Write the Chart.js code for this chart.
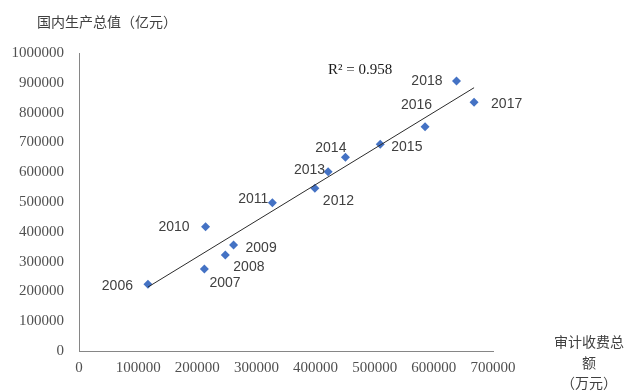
<!DOCTYPE html>
<html>
<head>
<meta charset="utf-8">
<script src="https://cdn.jsdelivr.net/npm/chart.js@4/dist/chart.umd.min.js"></script>
<style>
  html, body { margin: 0; padding: 0; background: #fff; }
  canvas { display: block; }
</style>
</head>
<body>
<canvas id="chart" width="626" height="392"></canvas>
<script>
// data
const years = ['2006', '2007', '2008', '2009', '2010', '2011', '2012', '2013', '2014', '2015', '2016', '2017', '2018'];
const auditFees = [116600, 212000, 247400, 261300, 214000, 327000, 398800, 421200, 450500, 509400, 585100, 668000, 638300];
const gdp = [223800, 275200, 322100, 355700, 417100, 497700, 546000, 601700, 650000, 693600, 752700, 834600, 906000];
const xTicks = [0, 100000, 200000, 300000, 400000, 500000, 600000, 700000];
const yTicks = [0, 100000, 200000, 300000, 400000, 500000, 600000, 700000, 800000, 900000, 1000000];
const rSquaredText = 'R² = 0.958';
const yTitle = '国内生产总值（亿元）';
const xTitleLines = ['审计收费总', '额', '（万元）'];

// where each year label sits next to its marker: [textAlign, dx, dy]
const labelPlacement = [
    ['right', -15, 2], ['left', 5, 14], ['left', 8, 12], ['left', 12, 3],
    ['right', -16, 0], ['right', -4, -4], ['left', 8, 13], ['right', -3, -2],
    ['right', 1, -9], ['left', 11, 3], ['right', 7, -22], ['left', 17, 2],
    ['right', -14, 0]
];

// least squares trend line, as Excel draws it
function trendLine(xs, ys) {
    const n = xs.length;
    const mx = xs.reduce((a, b) => a + b, 0) / n;
    const my = ys.reduce((a, b) => a + b, 0) / n;
    let sxy = 0, sxx = 0;
    for (let i = 0; i < n; i++) {
        sxy += (xs[i] - mx) * (ys[i] - my);
        sxx += (xs[i] - mx) * (xs[i] - mx);
    }
    const slope = sxy / sxx;
    const x0 = Math.min(...xs), x1 = Math.max(...xs);
    return [
        { x: x0, y: my + slope * (x0 - mx) },
        { x: x1, y: my + slope * (x1 - mx) }
    ];
}

const textPlugin = {
    id: 'texts',
    afterDatasetsDraw(chart) {
        const ctx = chart.ctx;
        const meta = chart.getDatasetMeta(1);
        ctx.save();
        ctx.textBaseline = 'middle';
        ctx.fillStyle = '#404040';
        ctx.font = '14px "Liberation Sans", Arial, sans-serif';
        meta.data.forEach((pt, i) => {
            const p = labelPlacement[i];
            ctx.textAlign = p[0];
            ctx.fillText(years[i], pt.x + p[1], pt.y + p[2]);
        });

        ctx.fillStyle = '#1a1a1a';
        ctx.textAlign = 'left';
        ctx.font = '15px "Liberation Serif", "Times New Roman", serif';
        ctx.fillText(rSquaredText, 328, 70);

        ctx.fillStyle = '#404040';
        ctx.font = '14px "Noto Sans CJK SC", sans-serif';
        ctx.fillText(yTitle, 37, 22);
        ctx.textAlign = 'center';
        const lineY = [342, 363, 383];
        xTitleLines.forEach((t, i) => ctx.fillText(t, 589, lineY[i]));
        ctx.restore();
    }
};

const tickFont = { family: '"Liberation Serif", "Times New Roman", serif', size: 15 };

new Chart(document.getElementById('chart'), {
    type: 'scatter',
    data: {
        datasets: [
            {
                type: 'line',
                data: trendLine(auditFees, gdp),
                borderColor: '#2b2b2b',
                borderWidth: 1,
                pointRadius: 0,
                fill: false
            },
            {
                data: auditFees.map((x, i) => ({ x, y: gdp[i] })),
                pointStyle: 'rectRot',
                pointRadius: 4.5,
                backgroundColor: '#4472C4',
                borderColor: '#4472C4',
                borderWidth: 0
            }
        ]
    },
    options: {
        responsive: false,
        animation: false,
        layout: { padding: { left: 0, top: 53, right: 133, bottom: 0 } },
        plugins: {
            legend: { display: false },
            tooltip: { enabled: false }
        },
        scales: {
            x: {
                type: 'linear',
                min: xTicks[0],
                max: xTicks[xTicks.length - 1],
                afterBuildTicks: s => { s.ticks = xTicks.map(v => ({ value: v })); },
                afterFit: s => { s.height = 41; },
                ticks: { font: tickFont, color: '#505050', padding: 8, maxRotation: 0, callback: v => String(v) },
                grid: { drawOnChartArea: false, drawTicks: false },
                border: { color: '#868686', width: 1 }
            },
            y: {
                min: yTicks[0],
                max: yTicks[yTicks.length - 1],
                afterBuildTicks: s => { s.ticks = yTicks.map(v => ({ value: v })); },
                afterFit: s => { s.width = 79; },
                ticks: { font: tickFont, color: '#505050', padding: 15, callback: v => String(v) },
                grid: { drawOnChartArea: false, drawTicks: false },
                border: { color: '#868686', width: 1 }
            }
        }
    },
    plugins: [textPlugin]
});
</script>
</body>
</html>
